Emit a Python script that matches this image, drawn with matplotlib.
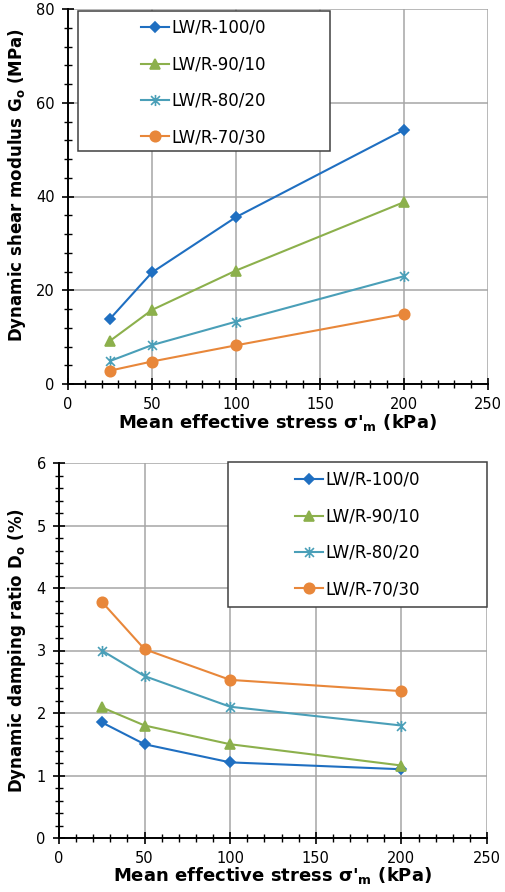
import matplotlib
matplotlib.use('Agg')
import matplotlib.pyplot as plt
from matplotlib.path import Path
from matplotlib.patches import Rectangle
from matplotlib.ticker import MultipleLocator

plt.rcParams['font.family'] = ['DejaVu Sans']

# data
stress = [25, 50, 100, 200]
labels = ['LW/R-100/0', 'LW/R-90/10', 'LW/R-80/20', 'LW/R-70/30']
g_100_0 = [13.9, 23.8, 35.6, 54.2]
g_90_10 = [9.2, 15.8, 24.2, 38.8]
g_80_20 = [4.9, 8.3, 13.3, 23.0]
g_70_30 = [2.85, 4.8, 8.25, 14.9]
d_100_0 = [1.85, 1.50, 1.21, 1.10]
d_90_10 = [2.09, 1.80, 1.50, 1.16]
d_80_20 = [3.00, 2.59, 2.10, 1.80]
d_70_30 = [3.78, 3.02, 2.53, 2.35]

colors = ['#1F6FC1', '#8CB04C', '#4A9FB8', '#E8873A']

# excel-like star marker: vertical line plus an x
star = Path([(0, -1), (0, 1), (-0.8, -0.8), (0.8, 0.8), (-0.8, 0.8), (0.8, -0.8)],
            [Path.MOVETO, Path.LINETO] * 3)
markers = [('D', 5), ('^', 7), (star, 8), ('o', 7.5)]

fig = plt.figure(figsize=(5.05, 8.92), dpi=100)


def make_panel(rect, series, ymax, ymajor, yminor, ylabel, ylab_xy, box, anchor, xpad):
    ax = fig.add_axes(rect)
    for vals, lab, col, (mk, ms) in zip(series, labels, colors, markers):
        ax.plot(stress, vals, color=col, lw=1.5, marker=mk, ms=ms,
                mfc=col, mec=col, mew=1.2, label=lab, clip_on=False, zorder=3)
    ax.set_xlim(0, 250)
    ax.set_ylim(0, ymax)
    ax.xaxis.set_major_locator(MultipleLocator(50))
    ax.xaxis.set_minor_locator(MultipleLocator(10))
    ax.yaxis.set_major_locator(MultipleLocator(ymajor))
    ax.yaxis.set_minor_locator(MultipleLocator(yminor))
    ax.grid(True, which='major', color='#A6A6A6', lw=1.1)
    ax.set_axisbelow(True)
    for s in ['top', 'right']:
        ax.spines[s].set_visible(False)
    for s in ['left', 'bottom']:
        ax.spines[s].set_linewidth(1.4)
    ax.tick_params(which='major', direction='inout', length=9, width=1.2, labelsize=10.5, pad=5)
    ax.tick_params(which='minor', direction='inout', length=6, width=1.0)
    ax.set_xlabel("Mean effective stress σ'$_\\mathbf{m}$ (kPa)", fontsize=13,
                  fontweight='bold', labelpad=xpad)
    ax.set_ylabel(ylabel, fontsize=12, fontweight='bold')
    ax.yaxis.set_label_coords(*ylab_xy)

    # legend frame drawn separately so the entries sit off-centre like the source
    ax.add_patch(Rectangle((box[0] / 505, 1 - box[3] / 892),
                           (box[2] - box[0]) / 505, (box[3] - box[1]) / 892,
                           transform=fig.transFigure, fill=True, fc='white',
                           ec='#404040', lw=1.1, zorder=5, clip_on=False))
    leg = ax.legend(loc='upper left', bbox_to_anchor=(anchor[0] / 505, 1 - anchor[1] / 892),
                    bbox_transform=fig.transFigure, frameon=False, fontsize=12,
                    labelspacing=1.1, handlelength=1.65, handletextpad=0.2,
                    borderpad=0, borderaxespad=0)
    leg.set_zorder(6)
    return ax


make_panel([68 / 505, 1 - 384 / 892, 420 / 505, 375 / 892],
           [g_100_0, g_90_10, g_80_20, g_70_30], 80, 20, 4,
           'Dynamic shear modulus G$_\\mathbf{o}$ (MPa)', (-0.095, 0.53),
           (78, 11, 330, 151), (141, 19), 0)
make_panel([59 / 505, 1 - 838 / 892, 428 / 505, 375 / 892],
           [d_100_0, d_90_10, d_80_20, d_70_30], 6, 1, 0.2,
           'Dynamic damping ratio D$_\\mathbf{o}$ (%)', (-0.072, 0.5),
           (228, 462, 487, 607), (295, 471), -1)

fig.savefig('out.png', dpi=100)
